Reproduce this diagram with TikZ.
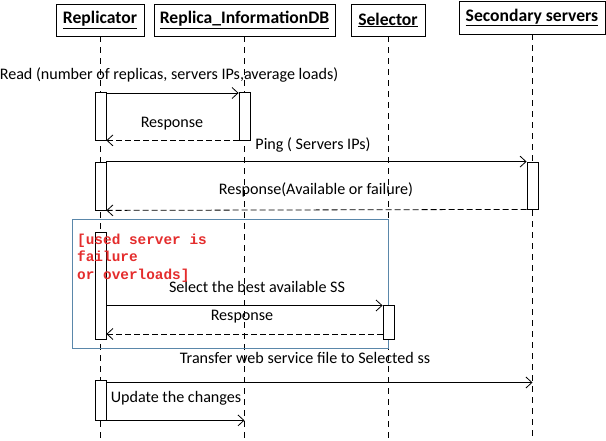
\documentclass[tikz,border=0pt]{standalone}
\usepackage{fontspec}
\setmainfont{Carlito}
\newfontfamily\redmono{Liberation Mono}
\usetikzlibrary{arrows.meta}
\definecolor{framecol}{RGB}{90,135,170}
\definecolor{notered}{RGB}{228,45,45}
\begin{document}
\begin{tikzpicture}[x=1pt,y=-1pt,
  header/.style={draw,line width=0.8pt,inner sep=0pt,font=\fontsize{17.6}{20}\selectfont\bfseries},
  lifeline/.style={line width=0.8pt,dash pattern=on 6pt off 5pt},
  actbox/.style={draw,fill=white,line width=0.8pt,inner sep=0pt,minimum width=11pt},
  msg/.style={line width=0.8pt,-{Straight Barb[length=6pt,width=11pt]}},
  reply/.style={msg,dash pattern=on 6pt off 3pt},
  lbl/.style={inner sep=0pt,font=\fontsize{16.1}{19}\selectfont}]
\useasboundingbox (0,0) rectangle (606,441);
% headers
\node[header,minimum width=88pt,minimum height=32pt] (rep) at (100,20) {\underline{Replicator}};
\node[header,minimum width=181pt,minimum height=32pt] (db) at (244.5,20) {\underline{Replica\_InformationDB}};
\node[header,minimum width=74pt,minimum height=32pt] (sel) at (388,20) {\underline{Selector}};
\node[header,minimum width=146pt,minimum height=33pt] (ss) at (532,17.5) {\underline{Secondary servers}};
% lifeline ends
\coordinate (repE) at (100.5,441);
\coordinate (dbE) at (244.5,441);
\coordinate (selE) at (388,441);
\coordinate (ssE) at (532.5,441);
\draw[lifeline] (rep.south -| repE) -- (repE);
\draw[lifeline] (db.south -| dbE) -- (dbE);
\draw[lifeline] (sel.south -| selE) -- (selE);
\draw[lifeline] (ss.south -| ssE) -- (ssE);
% frame
\draw[framecol,line width=0.8pt] (72,219) rectangle (388,348);
% activations
\node[actbox,minimum height=48pt] (a1) at (100.5,116) {};
\node[actbox,minimum height=48pt] (a2) at (244.5,116) {};
\node[actbox,minimum height=48pt] (a3) at (100.5,186) {};
\node[actbox,minimum height=47pt] (a4) at (532.5,185.5) {};
\node[actbox,minimum height=107pt] (a5) at (100.5,285.5) {};
\node[actbox,minimum height=34pt] (a6) at (388.5,322) {};
\node[actbox,minimum height=40pt] (a7) at (100.5,400) {};
% messages
\coordinate (r1) at (106,93);
\coordinate (r2) at (239,93);
\draw[msg] (r1 -| a1.east) -- (r2 -| a2.west);
\draw[reply] (a2.south west) -- (a1.south east);
\draw[msg] (a3.north east) -- (a4.north west);
\draw[reply] (a4.south west) -- (a3.south east);
\coordinate (s1) at (106,305.5);
\coordinate (s2) at (106,334);
\draw[msg] (s1 -| a5.east) -- (s1 -| a6.west);
\draw[reply] (s2 -| a6.west) -- (s2 -| a5.east);
\coordinate (t1) at (106,382.5);
\draw[msg] (t1 -| a7.east) -- (t1 -| ssE);
\draw[msg] (a7.south east) -- (a7.south east -| dbE);
% labels
\node[lbl] (l1) at (169,75) {Read (number of replicas, servers IPs,average loads)};
\node[lbl] (l2) at (172,124) {Response};
\node[lbl] (l3) at (313,145) {Ping ( Servers IPs)};
\node[lbl] (l4) at (316,190) {Response(Available or failure)};
\node[lbl] (l5) at (257,287) {Select the best available SS};
\node[lbl] (l6) at (242,317) {Response};
\node[lbl] (l7) at (305,358) {Transfer web service file to Selected ss};
\node[lbl] (l8) at (176,398) {Update the changes};
\node[inner sep=0pt,anchor=west,align=left,text=notered,font=\fontsize{14.4}{17.5}\selectfont\redmono\bfseries] (cond) at (77,258) {[used server is\\failure\\or overloads]};
\end{tikzpicture}
\end{document}
